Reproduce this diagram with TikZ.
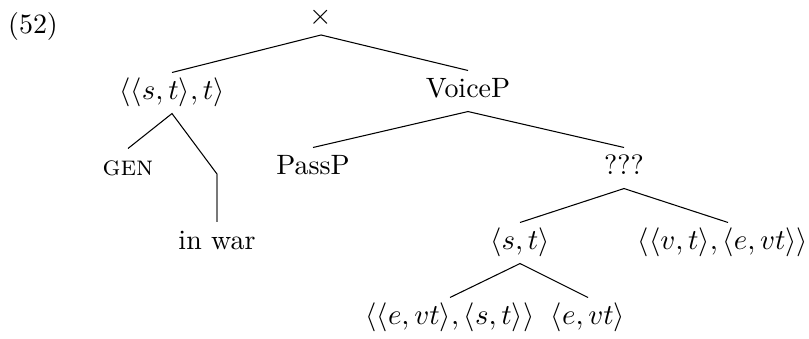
\documentclass[tikz,border=0pt]{standalone}
\usepackage{amssymb}
\begin{document}
\definecolor{vline}{RGB}{120,120,120}
\begin{tikzpicture}[x=0.3788pt,y=-0.3788pt,
  font=\fontsize{10.6pt}{12.5pt}\selectfont,
  lbl/.style={inner sep=0pt, text height=7.4pt, text depth=2.3pt, minimum height=15.15pt, anchor=center},
  br/.style={line width=0.4pt, black},
  gbr/.style={line width=0.6pt, vline}]
\useasboundingbox (0,0) rectangle (809,338);
\node[anchor=center, inner sep=0pt] (ex) at (33,26) {(52)};
\node[anchor=center, inner sep=0pt, outer xsep=0pt, outer ysep=3.8pt, text height=4.5pt, text depth=0pt] (cross) at (321,19) {$\times$};
\node[lbl] (sst) at (172,93) {$\langle\langle s,t\rangle,t\rangle$};
\node[lbl] (voice) at (468,91) {VoiceP};
\node[lbl] (gen) at (128,169) {\textsc{gen}};
\coordinate (bend) at (217,174);
\node[lbl] (inwar) at (217,243) {in war};
\node[lbl] (passp) at (313,168) {PassP};
\node[lbl] (qqq) at (624,168) {???};
\node[lbl] (st) at (520,243) {$\langle s,t\rangle$};
\node[lbl] (vtevt) at (723,243) {$\langle\langle v,t\rangle,\langle e,vt\rangle\rangle$};
\node[lbl] (evtst) at (450,318) {$\langle\langle e,vt\rangle,\langle s,t\rangle\rangle$};
\node[lbl] (evt) at (588,318) {$\langle e,vt\rangle$};
\draw[br] (sst.north) -- (cross.south) -- (voice.north);
\draw[br] (gen.north) -- (sst.south) -- (bend);
\draw[gbr] (bend) -- (inwar.north);
\draw[br] (passp.north) -- (voice.south) -- (qqq.north);
\draw[br] (st.north) -- (qqq.south) -- ([xshift=1.9pt]vtevt.north);
\draw[br] (evtst.north) -- (st.south) -- (evt.north);
\end{tikzpicture}
\end{document}
